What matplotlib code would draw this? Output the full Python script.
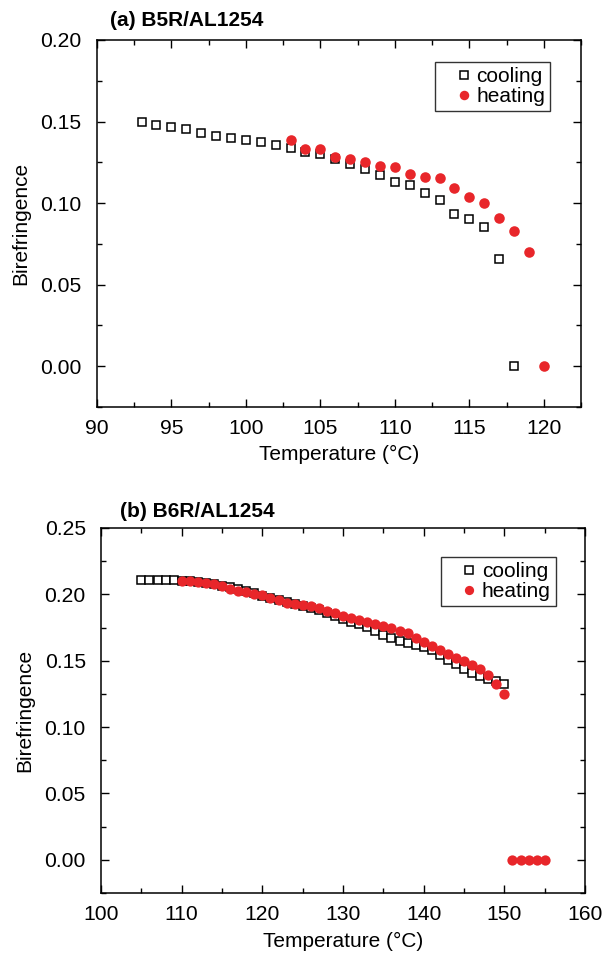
import matplotlib
matplotlib.use("Agg")
import matplotlib.pyplot as plt
from matplotlib.ticker import MultipleLocator, FormatStrFormatter

plt.rcParams["font.family"] = ["Liberation Sans", "DejaVu Sans"]

RED = "#E8262A"

# (a) B5R/AL1254
a_cool_t = [93, 94, 95, 96, 97, 98, 99, 100, 101, 102, 103, 104, 105, 106, 107,
            108, 109, 110, 111, 112, 113, 114, 115, 116, 117, 118]
a_cool_b = [0.1499, 0.1481, 0.1469, 0.1452, 0.1430, 0.1410, 0.1399, 0.1387,
            0.1377, 0.1359, 0.1336, 0.1312, 0.1302, 0.1271, 0.1238, 0.1208,
            0.1171, 0.1131, 0.1112, 0.1063, 0.1016, 0.0933, 0.0900, 0.0854,
            0.0656, 0.0]
a_heat_t = [103, 104, 105, 106, 107, 108, 109, 110, 111, 112, 113, 114, 115,
            116, 117, 118, 119, 120]
a_heat_b = [0.1389, 0.1332, 0.1332, 0.1281, 0.1269, 0.1251, 0.1230, 0.1220,
            0.1181, 0.1161, 0.1151, 0.1092, 0.1035, 0.0998, 0.0909, 0.0831,
            0.0701, 0.0]

# (b) B6R/AL1254
b_cool_t = list(range(105, 151))
b_cool_b = [0.2110, 0.2110, 0.2110, 0.2110, 0.2108, 0.2103, 0.2098, 0.2090,
            0.2083, 0.2075, 0.2065, 0.2055, 0.2043, 0.2028, 0.2010, 0.1990,
            0.1975, 0.1960, 0.1940, 0.1925, 0.1915, 0.1900, 0.1880, 0.1860,
            0.1838, 0.1815, 0.1795, 0.1775, 0.1757, 0.1723, 0.1697, 0.1672,
            0.1648, 0.1632, 0.1615, 0.1600, 0.1580, 0.1540, 0.1507, 0.1477,
            0.1440, 0.1410, 0.1382, 0.1364, 0.1345, 0.1327]
b_heat_t = list(range(110, 156))
b_heat_b = [0.2103, 0.2098, 0.2095, 0.2088, 0.2078, 0.2063, 0.2043, 0.2028,
            0.2015, 0.2005, 0.1995, 0.1973, 0.1955, 0.1938, 0.1928, 0.1920,
            0.1915, 0.1898, 0.1878, 0.1858, 0.1838, 0.1823, 0.1805, 0.1790,
            0.1778, 0.1763, 0.1745, 0.1725, 0.1707, 0.1672, 0.1640, 0.1610,
            0.1582, 0.1552, 0.1522, 0.1497, 0.1467, 0.1435, 0.1392, 0.1327,
            0.1252, 0.0, 0.0, 0.0, 0.0, 0.0]


def style_axis(ax, xlim, ylim, xmaj, xmin):
    ax.set_xlim(*xlim)
    ax.set_ylim(*ylim)
    ax.xaxis.set_major_locator(MultipleLocator(xmaj))
    ax.xaxis.set_minor_locator(MultipleLocator(xmin))
    ax.yaxis.set_major_locator(MultipleLocator(0.05))
    ax.yaxis.set_minor_locator(MultipleLocator(0.025))
    ax.yaxis.set_major_formatter(FormatStrFormatter("%.2f"))
    ax.tick_params(which="both", direction="in", top=True, right=True,
                   width=1.0, labelsize=15.2)
    ax.tick_params(which="major", length=6)
    ax.tick_params(which="minor", length=3.5)
    ax.tick_params(axis="x", which="major", pad=9)
    ax.tick_params(axis="y", which="major", pad=11)
    for s in ax.spines.values():
        s.set_linewidth(1.1)
    ax.set_xlabel("Temperature (°C)", fontsize=15, labelpad=5)
    ax.set_ylabel("Birefringence", fontsize=15, labelpad=7)


def draw(ax, ct, cb, ht, hb, sq, ci):
    ax.plot(ct, cb, ls="none", marker="s", ms=sq, mfc="white", mec="black",
            mew=1.1, label="cooling", zorder=2)
    ax.plot(ht, hb, ls="none", marker="o", ms=ci, mfc=RED, mec=RED,
            mew=0, label="heating", zorder=3)


fig = plt.figure(figsize=(6.05, 9.56), dpi=100)
ax1 = fig.add_axes([0.160, 0.5743, 0.8005, 0.3839])
ax2 = fig.add_axes([0.167, 0.0659, 0.800, 0.3818])

draw(ax1, a_cool_t, a_cool_b, a_heat_t, a_heat_b, 6.2, 7.6)
style_axis(ax1, (90, 122.5), (-0.025, 0.20), 5, 2.5)
ax1.text(0.027, 1.028, "(a) B5R/AL1254", transform=ax1.transAxes,
         fontsize=15, fontweight="bold", va="bottom", ha="left")

draw(ax2, b_cool_t, b_cool_b, b_heat_t, b_heat_b, 6.2, 7.4)
style_axis(ax2, (100, 160), (-0.025, 0.25), 10, 5)
ax2.text(0.039, 1.018, "(b) B6R/AL1254", transform=ax2.transAxes,
         fontsize=15, fontweight="bold", va="bottom", ha="left")

for ax, anchor in ((ax1, (0.936, 0.94)), (ax2, (0.94, 0.921))):
    leg = ax.legend(loc="upper right", bbox_to_anchor=anchor, fontsize=15,
                    frameon=True, fancybox=False, edgecolor="black",
                    handlelength=2.2, handletextpad=-0.5, labelspacing=0.05,
                    borderpad=0.25, borderaxespad=0, markerscale=0.9)
    leg.get_frame().set_linewidth(1.0)

fig.savefig("out.png", dpi=100)
